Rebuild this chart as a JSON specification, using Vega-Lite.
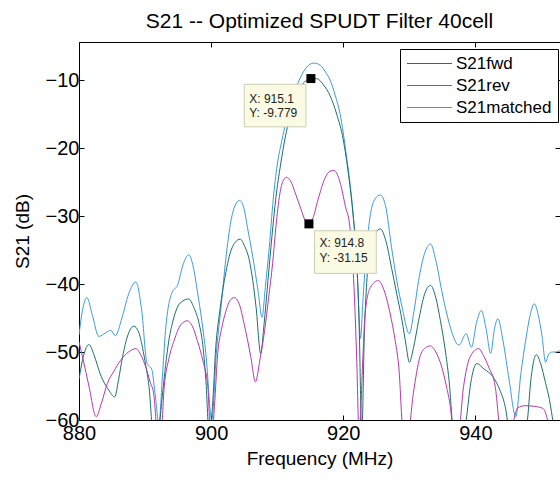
{
  "$schema": "https://vega.github.io/schema/vega-lite/v6.json",
  "width": 481,
  "height": 378,
  "autosize": {"type": "none"},
  "padding": {"left": 79, "top": 42, "right": 0, "bottom": 59},
  "background": "white",
  "config": {"view": {"stroke": "black", "strokeWidth": 1}, "font": "Liberation Sans"},
  "title": {"text": "S21 -- Optimized SPUDT Filter 40cell", "fontSize": 21, "fontWeight": "normal", "anchor": "middle", "offset": 10, "color": "black", "font": "Liberation Sans"},
  "datasets": {
    "curves": [
      {"s":"S21matched","f":880.0,"v":-47.5},{"s":"S21matched","f":880.5,"v":-44.0},{"s":"S21matched","f":881.2,"v":-42.0},{"s":"S21matched","f":882.0,"v":-44.5},{"s":"S21matched","f":883.0,"v":-47.7},{"s":"S21matched","f":884.0,"v":-47.2},{"s":"S21matched","f":884.8,"v":-46.8},{"s":"S21matched","f":885.5,"v":-47.6},{"s":"S21matched","f":886.5,"v":-45.0},{"s":"S21matched","f":887.5,"v":-41.5},{"s":"S21matched","f":888.6,"v":-39.7},{"s":"S21matched","f":889.5,"v":-44.0},{"s":"S21matched","f":890.3,"v":-51.7},{"s":"S21matched","f":891.0,"v":-52.5},{"s":"S21matched","f":891.5,"v":-56.0},{"s":"S21matched","f":892.1,"v":-60.5},{"s":"S21matched","f":892.6,"v":-54.0},{"s":"S21matched","f":893.1,"v":-46.8},{"s":"S21matched","f":894.1,"v":-41.2},{"s":"S21matched","f":894.9,"v":-40.2},{"s":"S21matched","f":895.8,"v":-37.0},{"s":"S21matched","f":896.6,"v":-35.7},{"s":"S21matched","f":897.3,"v":-37.5},{"s":"S21matched","f":897.9,"v":-41.0},{"s":"S21matched","f":898.6,"v":-45.5},{"s":"S21matched","f":899.2,"v":-50.2},{"s":"S21matched","f":900.1,"v":-60.0},{"s":"S21matched","f":900.8,"v":-50.0},{"s":"S21matched","f":901.5,"v":-43.4},{"s":"S21matched","f":902.2,"v":-36.5},{"s":"S21matched","f":903.0,"v":-30.7},{"s":"S21matched","f":903.6,"v":-28.5},{"s":"S21matched","f":904.3,"v":-27.7},{"s":"S21matched","f":905.0,"v":-29.0},{"s":"S21matched","f":905.5,"v":-31.7},{"s":"S21matched","f":906.3,"v":-36.0},{"s":"S21matched","f":907.1,"v":-41.0},{"s":"S21matched","f":907.7,"v":-44.9},{"s":"S21matched","f":908.2,"v":-40.5},{"s":"S21matched","f":908.8,"v":-34.6},{"s":"S21matched","f":909.4,"v":-27.5},{"s":"S21matched","f":910.0,"v":-22.5},{"s":"S21matched","f":910.7,"v":-18.9},{"s":"S21matched","f":911.3,"v":-16.3},{"s":"S21matched","f":911.9,"v":-14.4},{"s":"S21matched","f":912.5,"v":-12.2},{"s":"S21matched","f":913.2,"v":-10.3},{"s":"S21matched","f":914.3,"v":-8.3},{"s":"S21matched","f":915.5,"v":-7.5},{"s":"S21matched","f":916.5,"v":-7.8},{"s":"S21matched","f":917.3,"v":-8.8},{"s":"S21matched","f":918.0,"v":-10.0},{"s":"S21matched","f":918.8,"v":-12.3},{"s":"S21matched","f":919.5,"v":-14.9},{"s":"S21matched","f":920.0,"v":-17.8},{"s":"S21matched","f":920.5,"v":-21.3},{"s":"S21matched","f":921.0,"v":-25.0},{"s":"S21matched","f":921.3,"v":-27.7},{"s":"S21matched","f":921.8,"v":-33.6},{"s":"S21matched","f":922.2,"v":-40.0},{"s":"S21matched","f":922.6,"v":-48.0},{"s":"S21matched","f":923.0,"v":-42.0},{"s":"S21matched","f":923.5,"v":-35.0},{"s":"S21matched","f":924.1,"v":-29.8},{"s":"S21matched","f":924.8,"v":-27.5},{"s":"S21matched","f":925.6,"v":-26.9},{"s":"S21matched","f":926.4,"v":-28.5},{"s":"S21matched","f":927.3,"v":-34.6},{"s":"S21matched","f":928.1,"v":-39.5},{"s":"S21matched","f":928.9,"v":-43.4},{"s":"S21matched","f":930.0,"v":-47.3},{"s":"S21matched","f":930.7,"v":-44.0},{"s":"S21matched","f":931.4,"v":-39.5},{"s":"S21matched","f":932.3,"v":-35.5},{"s":"S21matched","f":933.2,"v":-34.1},{"s":"S21matched","f":934.0,"v":-36.5},{"s":"S21matched","f":934.9,"v":-41.0},{"s":"S21matched","f":935.7,"v":-44.5},{"s":"S21matched","f":936.5,"v":-47.3},{"s":"S21matched","f":937.5,"v":-49.0},{"s":"S21matched","f":938.6,"v":-47.3},{"s":"S21matched","f":939.4,"v":-49.3},{"s":"S21matched","f":940.2,"v":-45.5},{"s":"S21matched","f":940.9,"v":-43.9},{"s":"S21matched","f":941.6,"v":-46.5},{"s":"S21matched","f":942.3,"v":-50.2},{"s":"S21matched","f":942.9,"v":-46.5},{"s":"S21matched","f":943.4,"v":-45.1},{"s":"S21matched","f":944.2,"v":-48.5},{"s":"S21matched","f":945.1,"v":-54.1},{"s":"S21matched","f":946.1,"v":-59.5},{"s":"S21matched","f":946.9,"v":-53.0},{"s":"S21matched","f":947.6,"v":-48.3},{"s":"S21matched","f":948.3,"v":-44.5},{"s":"S21matched","f":948.9,"v":-42.9},{"s":"S21matched","f":949.5,"v":-44.5},{"s":"S21matched","f":950.1,"v":-47.8},{"s":"S21matched","f":950.6,"v":-51.5},{"s":"S21matched","f":951.1,"v":-50.3},{"s":"S21matched","f":951.6,"v":-50.0},{"s":"S21matched","f":952.2,"v":-50.0},{"s":"S21matched","f":952.8,"v":-49.8},

      {"s":"S21fwd","f":880.0,"v":-54.0},{"s":"S21fwd","f":880.7,"v":-50.5},{"s":"S21fwd","f":881.5,"v":-48.9},{"s":"S21fwd","f":882.3,"v":-50.5},{"s":"S21fwd","f":883.2,"v":-53.2},{"s":"S21fwd","f":884.5,"v":-55.6},{"s":"S21fwd","f":885.4,"v":-56.6},{"s":"S21fwd","f":886.0,"v":-54.0},{"s":"S21fwd","f":886.5,"v":-51.2},{"s":"S21fwd","f":887.3,"v":-47.8},{"s":"S21fwd","f":888.3,"v":-46.2},{"s":"S21fwd","f":889.0,"v":-47.0},{"s":"S21fwd","f":889.6,"v":-49.3},{"s":"S21fwd","f":890.1,"v":-52.0},{"s":"S21fwd","f":890.6,"v":-55.1},{"s":"S21fwd","f":891.2,"v":-62.0},{"s":"S21fwd","f":891.8,"v":-63.0},{"s":"S21fwd","f":892.6,"v":-56.6},{"s":"S21fwd","f":893.1,"v":-52.0},{"s":"S21fwd","f":893.6,"v":-48.3},{"s":"S21fwd","f":894.2,"v":-45.5},{"s":"S21fwd","f":894.9,"v":-43.4},{"s":"S21fwd","f":895.7,"v":-42.5},{"s":"S21fwd","f":896.6,"v":-42.2},{"s":"S21fwd","f":897.4,"v":-43.5},{"s":"S21fwd","f":898.2,"v":-45.9},{"s":"S21fwd","f":898.8,"v":-49.5},{"s":"S21fwd","f":899.2,"v":-54.1},{"s":"S21fwd","f":899.7,"v":-62.0},{"s":"S21fwd","f":900.2,"v":-58.0},{"s":"S21fwd","f":900.7,"v":-49.3},{"s":"S21fwd","f":901.3,"v":-44.0},{"s":"S21fwd","f":902.0,"v":-39.5},{"s":"S21fwd","f":903.0,"v":-35.1},{"s":"S21fwd","f":903.7,"v":-33.8},{"s":"S21fwd","f":904.4,"v":-33.4},{"s":"S21fwd","f":905.1,"v":-34.5},{"s":"S21fwd","f":905.8,"v":-36.6},{"s":"S21fwd","f":906.3,"v":-39.5},{"s":"S21fwd","f":906.8,"v":-43.4},{"s":"S21fwd","f":907.5,"v":-50.2},{"s":"S21fwd","f":908.0,"v":-46.0},{"s":"S21fwd","f":908.6,"v":-39.5},{"s":"S21fwd","f":909.2,"v":-33.0},{"s":"S21fwd","f":909.8,"v":-27.3},{"s":"S21fwd","f":910.5,"v":-22.5},{"s":"S21fwd","f":911.2,"v":-18.5},{"s":"S21fwd","f":912.0,"v":-15.2},{"s":"S21fwd","f":913.0,"v":-12.2},{"s":"S21fwd","f":914.0,"v":-10.4},{"s":"S21fwd","f":915.1,"v":-9.78},{"s":"S21fwd","f":916.0,"v":-9.8},{"s":"S21fwd","f":917.0,"v":-10.7},{"s":"S21fwd","f":918.0,"v":-12.3},{"s":"S21fwd","f":919.0,"v":-15.0},{"s":"S21fwd","f":920.0,"v":-18.8},{"s":"S21fwd","f":920.8,"v":-24.0},{"s":"S21fwd","f":921.5,"v":-30.0},{"s":"S21fwd","f":922.0,"v":-36.0},{"s":"S21fwd","f":922.4,"v":-46.0},{"s":"S21fwd","f":922.8,"v":-62.0},{"s":"S21fwd","f":923.2,"v":-47.0},{"s":"S21fwd","f":923.6,"v":-39.0},{"s":"S21fwd","f":924.2,"v":-34.5},{"s":"S21fwd","f":924.8,"v":-32.6},{"s":"S21fwd","f":925.6,"v":-31.9},{"s":"S21fwd","f":926.4,"v":-33.5},{"s":"S21fwd","f":927.3,"v":-37.6},{"s":"S21fwd","f":928.1,"v":-41.5},{"s":"S21fwd","f":928.9,"v":-45.4},{"s":"S21fwd","f":929.5,"v":-49.0},{"s":"S21fwd","f":930.0,"v":-51.5},{"s":"S21fwd","f":930.6,"v":-49.5},{"s":"S21fwd","f":931.4,"v":-45.4},{"s":"S21fwd","f":932.3,"v":-41.5},{"s":"S21fwd","f":933.2,"v":-40.2},{"s":"S21fwd","f":934.0,"v":-42.0},{"s":"S21fwd","f":934.7,"v":-45.4},{"s":"S21fwd","f":935.4,"v":-49.5},{"s":"S21fwd","f":936.0,"v":-54.1},{"s":"S21fwd","f":936.7,"v":-62.0},{"s":"S21fwd","f":937.7,"v":-64.0},{"s":"S21fwd","f":938.6,"v":-60.0},{"s":"S21fwd","f":939.3,"v":-54.5},{"s":"S21fwd","f":940.2,"v":-51.7},{"s":"S21fwd","f":941.3,"v":-52.5},{"s":"S21fwd","f":942.7,"v":-53.7},{"s":"S21fwd","f":943.7,"v":-55.6},{"s":"S21fwd","f":944.5,"v":-58.0},{"s":"S21fwd","f":945.2,"v":-62.0},{"s":"S21fwd","f":946.5,"v":-64.0},{"s":"S21fwd","f":947.8,"v":-60.5},{"s":"S21fwd","f":948.4,"v":-54.0},{"s":"S21fwd","f":949.2,"v":-50.4},{"s":"S21fwd","f":949.9,"v":-51.8},{"s":"S21fwd","f":950.6,"v":-54.5},{"s":"S21fwd","f":951.2,"v":-57.0},{"s":"S21fwd","f":951.8,"v":-60.5},{"s":"S21fwd","f":952.8,"v":-64.0},

      {"s":"S21rev","f":880.0,"v":-48.5},{"s":"S21rev","f":880.6,"v":-51.0},{"s":"S21rev","f":881.5,"v":-55.0},{"s":"S21rev","f":882.6,"v":-59.5},{"s":"S21rev","f":883.4,"v":-57.5},{"s":"S21rev","f":884.3,"v":-54.6},{"s":"S21rev","f":885.3,"v":-52.8},{"s":"S21rev","f":886.3,"v":-51.2},{"s":"S21rev","f":887.5,"v":-50.0},{"s":"S21rev","f":888.6,"v":-49.5},{"s":"S21rev","f":889.4,"v":-50.5},{"s":"S21rev","f":890.1,"v":-52.2},{"s":"S21rev","f":890.8,"v":-54.5},{"s":"S21rev","f":891.3,"v":-56.1},{"s":"S21rev","f":891.9,"v":-62.0},{"s":"S21rev","f":892.4,"v":-62.0},{"s":"S21rev","f":892.9,"v":-55.1},{"s":"S21rev","f":893.6,"v":-51.0},{"s":"S21rev","f":894.4,"v":-48.3},{"s":"S21rev","f":895.4,"v":-46.0},{"s":"S21rev","f":896.4,"v":-45.4},{"s":"S21rev","f":897.2,"v":-46.3},{"s":"S21rev","f":897.9,"v":-48.3},{"s":"S21rev","f":898.8,"v":-51.5},{"s":"S21rev","f":899.5,"v":-55.1},{"s":"S21rev","f":900.0,"v":-64.0},{"s":"S21rev","f":900.5,"v":-58.0},{"s":"S21rev","f":901.0,"v":-50.2},{"s":"S21rev","f":901.6,"v":-46.5},{"s":"S21rev","f":902.2,"v":-44.1},{"s":"S21rev","f":902.8,"v":-42.5},{"s":"S21rev","f":903.5,"v":-42.0},{"s":"S21rev","f":904.2,"v":-42.8},{"s":"S21rev","f":905.0,"v":-45.9},{"s":"S21rev","f":906.0,"v":-50.7},{"s":"S21rev","f":906.7,"v":-54.4},{"s":"S21rev","f":907.4,"v":-51.0},{"s":"S21rev","f":908.1,"v":-46.8},{"s":"S21rev","f":908.7,"v":-42.0},{"s":"S21rev","f":909.3,"v":-37.0},{"s":"S21rev","f":909.8,"v":-31.6},{"s":"S21rev","f":910.4,"v":-26.7},{"s":"S21rev","f":910.9,"v":-24.8},{"s":"S21rev","f":911.4,"v":-24.3},{"s":"S21rev","f":912.0,"v":-24.8},{"s":"S21rev","f":912.8,"v":-26.8},{"s":"S21rev","f":913.6,"v":-29.0},{"s":"S21rev","f":914.3,"v":-30.8},{"s":"S21rev","f":914.8,"v":-31.15},{"s":"S21rev","f":915.4,"v":-30.3},{"s":"S21rev","f":916.2,"v":-27.5},{"s":"S21rev","f":917.2,"v":-24.5},{"s":"S21rev","f":918.0,"v":-23.4},{"s":"S21rev","f":918.6,"v":-23.3},{"s":"S21rev","f":919.5,"v":-25.0},{"s":"S21rev","f":920.3,"v":-28.5},{"s":"S21rev","f":921.0,"v":-31.6},{"s":"S21rev","f":921.5,"v":-38.0},{"s":"S21rev","f":922.0,"v":-50.0},{"s":"S21rev","f":922.4,"v":-62.0},{"s":"S21rev","f":923.0,"v":-50.0},{"s":"S21rev","f":923.3,"v":-44.4},{"s":"S21rev","f":924.1,"v":-40.5},{"s":"S21rev","f":925.3,"v":-39.5},{"s":"S21rev","f":926.2,"v":-41.0},{"s":"S21rev","f":927.1,"v":-44.4},{"s":"S21rev","f":927.8,"v":-48.0},{"s":"S21rev","f":928.4,"v":-52.2},{"s":"S21rev","f":929.1,"v":-62.0},{"s":"S21rev","f":929.8,"v":-62.0},{"s":"S21rev","f":930.6,"v":-56.1},{"s":"S21rev","f":931.6,"v":-50.7},{"s":"S21rev","f":932.4,"v":-49.4},{"s":"S21rev","f":933.2,"v":-49.1},{"s":"S21rev","f":934.0,"v":-50.0},{"s":"S21rev","f":934.9,"v":-52.2},{"s":"S21rev","f":935.6,"v":-55.0},{"s":"S21rev","f":936.2,"v":-58.0},{"s":"S21rev","f":936.7,"v":-62.0},{"s":"S21rev","f":937.4,"v":-62.0},{"s":"S21rev","f":938.2,"v":-55.1},{"s":"S21rev","f":939.2,"v":-50.7},{"s":"S21rev","f":940.5,"v":-49.5},{"s":"S21rev","f":941.2,"v":-50.5},{"s":"S21rev","f":942.0,"v":-52.2},{"s":"S21rev","f":943.0,"v":-55.1},{"s":"S21rev","f":943.8,"v":-62.0},{"s":"S21rev","f":945.0,"v":-64.0},{"s":"S21rev","f":945.8,"v":-60.0},{"s":"S21rev","f":946.4,"v":-58.2},{"s":"S21rev","f":947.5,"v":-57.9},{"s":"S21rev","f":949.0,"v":-58.0},{"s":"S21rev","f":950.2,"v":-58.3},{"s":"S21rev","f":950.9,"v":-60.0},{"s":"S21rev","f":951.5,"v":-64.0},{"s":"S21rev","f":952.8,"v":-64.0}
    ],
    "tips": [
      {"tip": "a", "f": 915.1, "v": -9.779, "label": "X: 915.1\nY: -9.779"},
      {"tip": "b", "f": 914.8, "v": -31.15, "label": "X: 914.8\nY: -31.15"}
    ]
  },
  "layer": [
    {
      "data": {"name": "curves"},
      "mark": {"type": "line", "clip": true, "strokeWidth": 1, "interpolate": "monotone"},
      "encoding": {
        "x": {"field": "f", "type": "quantitative", "scale": {"domain": [880, 952.8], "nice": false, "zero": false},
              "axis": {"values": [880, 900, 920, 940], "format": "d", "title": "Frequency (MHz)", "titleFontSize": 19, "titleFontWeight": "normal", "titleColor": "black", "titleFont": "Liberation Sans", "titlePadding": 6, "labelFontSize": 20, "labelColor": "black", "labelFont": "Liberation Sans", "labelPadding": 8, "tickSize": -5, "tickColor": "black", "domain": false, "grid": false, "labelFlush": false, "labelOverlap": false}},
        "y": {"field": "v", "type": "quantitative", "scale": {"domain": [-60, -4.4], "nice": false, "zero": false},
              "axis": {"values": [-60, -50, -40, -30, -20, -10], "format": "d", "title": "S21 (dB)", "titleFontSize": 19, "titleFontWeight": "normal", "titleColor": "black", "titleFont": "Liberation Sans", "titlePadding": 13, "labelFontSize": 20, "labelColor": "black", "labelFont": "Liberation Sans", "labelPadding": 5, "tickSize": -5, "tickColor": "black", "domain": false, "grid": false, "labelFlush": false, "labelOverlap": false}},
        "color": {"field": "s", "type": "nominal",
                  "scale": {"domain": ["S21fwd", "S21rev", "S21matched"], "range": ["#1d6f6a", "#b03ab0", "#3d9bd8"]},
                  "legend": {"orient": "none", "legendX": 321, "legendY": 7, "title": null, "symbolType": "M-1,0H5", "symbolSize": 225, "symbolStrokeWidth": 1.2, "labelFontSize": 17, "labelFont": "Liberation Sans", "labelColor": "black", "labelOffset": 33, "strokeColor": "black", "fillColor": "white", "padding": 6, "rowPadding": 4}}
      }
    },
    {
      "data": {"name": "tips"},
      "mark": {"type": "point", "opacity": 0},
      "encoding": {
        "x": {"field": "f", "type": "quantitative", "axis": {"orient": "top", "values": [880, 900, 920, 940], "labels": false, "title": null, "tickSize": -5, "tickColor": "black", "domain": false, "grid": false}},
        "y": {"field": "v", "type": "quantitative", "axis": {"orient": "right", "values": [-60, -50, -40, -30, -20, -10], "labels": false, "title": null, "tickSize": -5, "tickColor": "black", "domain": false, "grid": false}}
      }
    },
    {
      "data": {"name": "tips"},
      "transform": [{"filter": "datum.tip == 'a'"}],
      "mark": {"type": "point", "shape": "M-1,-0.69H1V0.69H-1Z", "size": 3807, "filled": true, "fill": "#fbfbe4", "stroke": "#cdcdb4", "strokeWidth": 1, "opacity": 1, "xOffset": -35.8, "yOffset": 27},
      "encoding": {"x": {"field": "f", "type": "quantitative", "axis": null}, "y": {"field": "v", "type": "quantitative", "axis": null}}
    },
    {
      "data": {"name": "tips"},
      "transform": [{"filter": "datum.tip == 'b'"}],
      "mark": {"type": "point", "shape": "M-1,-0.69H1V0.69H-1Z", "size": 3807, "filled": true, "fill": "#fbfbe4", "stroke": "#cdcdb4", "strokeWidth": 1, "opacity": 1, "xOffset": 36.5, "yOffset": 28.2},
      "encoding": {"x": {"field": "f", "type": "quantitative", "axis": null}, "y": {"field": "v", "type": "quantitative", "axis": null}}
    },
    {
      "data": {"name": "tips"},
      "transform": [{"filter": "datum.tip == 'a'"}],
      "mark": {"type": "text", "align": "left", "baseline": "alphabetic", "dx": -61.7, "dy": 24, "fontSize": 12, "font": "Liberation Sans", "color": "#222222", "lineBreak": "\n", "lineHeight": 14.5},
      "encoding": {"x": {"field": "f", "type": "quantitative", "axis": null}, "y": {"field": "v", "type": "quantitative", "axis": null}, "text": {"field": "label"}}
    },
    {
      "data": {"name": "tips"},
      "transform": [{"filter": "datum.tip == 'b'"}],
      "mark": {"type": "text", "align": "left", "baseline": "alphabetic", "dx": 10.6, "dy": 23.3, "fontSize": 12, "font": "Liberation Sans", "color": "#222222", "lineBreak": "\n", "lineHeight": 15},
      "encoding": {"x": {"field": "f", "type": "quantitative", "axis": null}, "y": {"field": "v", "type": "quantitative", "axis": null}, "text": {"field": "label"}}
    },
    {
      "data": {"name": "tips"},
      "mark": {"type": "point", "shape": "square", "size": 81, "filled": true, "color": "black", "opacity": 1},
      "encoding": {"x": {"field": "f", "type": "quantitative", "axis": null}, "y": {"field": "v", "type": "quantitative", "axis": null}}
    }
  ],
  "resolve": {"axis": {"x": "independent", "y": "independent"}}
}
